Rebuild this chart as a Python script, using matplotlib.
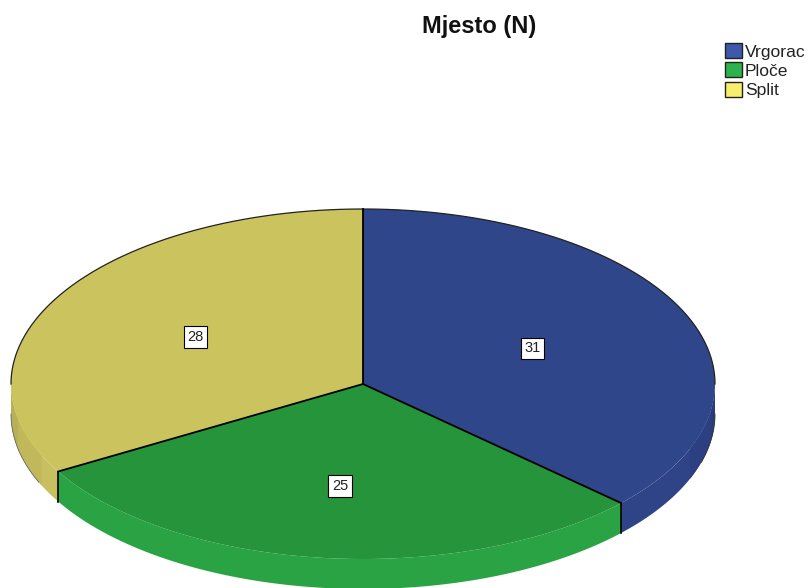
import numpy as np
import matplotlib
matplotlib.use('Agg')
import matplotlib.pyplot as plt
from matplotlib.patches import Polygon, Patch

plt.rcParams['font.family'] = ['Liberation Sans', 'DejaVu Sans']

# data
mjesta = ['Vrgorac', 'Ploče', 'Split']
broj = [31, 25, 28]

# colours
boje_gore = ['#30468a', '#25943b', '#cbc45e']
boje_strana = ['#2f4487', '#29a343', '#c8c060']
boje_legenda = ['#3e58ac', '#2eb24b', '#f6ee6c']

# pie geometry in pixels
cx, cy = 363, 384
rx, ry = 352, 175
dubina = 30

# how far out each value label sits
polozaj = [0.525, 0.58, 0.55]


def tocka(kut):
    # kut is measured clockwise from the top
    return cx + rx * np.sin(kut), cy - ry * np.cos(kut)


def strana(a, b, boja, z):
    t = np.linspace(a, b, 80)
    x, y = tocka(t)
    xy = np.column_stack([np.r_[x, x[::-1]], np.r_[y + dubina, y[::-1]]])
    ax.add_patch(Polygon(xy, closed=True, fc=boja, ec='none', zorder=z))


fig = plt.figure(figsize=(8.08, 5.88), dpi=100)
ax = fig.add_axes([0, 0, 1, 1])
ax.set_xlim(0, 808)
ax.set_ylim(588, 0)
ax.axis('off')

rubovi = np.concatenate([[0], np.cumsum(broj)]) / np.sum(broj) * 2 * np.pi

# side of the disc, only the front half shows
for i in range(len(broj)):
    a = max(rubovi[i], np.pi / 2)
    b = min(rubovi[i + 1], 3 * np.pi / 2)
    if b > a:
        strana(a, b, boje_strana[i], 1)

# darker strips at both ends of the side
strana(np.pi / 2, 1.72, '#2a3b78', 1.5)
strana(1.72, 1.95, '#2c3f80', 1.4)
strana(3 * np.pi / 2 - 0.2, 3 * np.pi / 2, '#b8b056', 1.5)
strana(3 * np.pi / 2 - 0.42, 3 * np.pi / 2 - 0.2, '#c0b85b', 1.4)

# outer edge of the side
t = np.linspace(np.pi / 2, 1.85, 100)
x, y = tocka(t)
ax.plot(x, y + dubina, color='#333333', lw=0.6, zorder=2)
t = np.linspace(3 * np.pi / 2 - 0.4, 3 * np.pi / 2, 100)
x, y = tocka(t)
ax.plot(x, y + dubina, color='#666666', lw=0.6, zorder=2)

# vertical edges where slices meet at the front
for r in rubovi[1:3]:
    x, y = tocka(r)
    ax.plot([x, x], [y, y + dubina], color='black', lw=1.2, zorder=3)

# top of the disc
for i in range(len(broj)):
    t = np.linspace(rubovi[i], rubovi[i + 1], 200)
    x, y = tocka(t)
    xy = np.column_stack([np.r_[cx, x], np.r_[cy, y]])
    ax.add_patch(Polygon(xy, closed=True, fc=boje_gore[i], ec='none', zorder=4))

t = np.linspace(-np.pi / 2, np.pi / 2, 300)
x, y = tocka(t)
ax.plot(x, y, color='#222222', lw=0.9, zorder=5)
for r in rubovi[:3]:
    x, y = tocka(r)
    ax.plot([cx, x], [cy, y], color='black', lw=1.3, zorder=5)

# value labels
for i in range(len(broj)):
    s = (rubovi[i] + rubovi[i + 1]) / 2
    x, y = cx + polozaj[i] * rx * np.sin(s), cy - polozaj[i] * ry * np.cos(s)
    ax.text(x, y + 1, str(broj[i]), fontsize=10.5, color='#222222', ha='center', va='center', zorder=6,
            bbox=dict(boxstyle='square,pad=0.25', fc='white', ec='black', lw=0.8))

fig.text(479 / 808, 1 - 27 / 588, 'Mjesto (N)', fontsize=17, fontweight='bold',
         color='#111111', ha='center', va='center')

rucke = [Patch(fc=c, ec='#222222', lw=1.0) for c in boje_legenda]
ax.legend(rucke, mjesta, loc='upper left', bbox_to_anchor=(725 / 808, 1 - 43 / 588),
          frameon=False, fontsize=12.6, borderpad=0, borderaxespad=0, labelspacing=0.16,
          handlelength=0.95, handleheight=0.95, handletextpad=0.18, labelcolor='#222222')

plt.savefig('out.png', dpi=100)
